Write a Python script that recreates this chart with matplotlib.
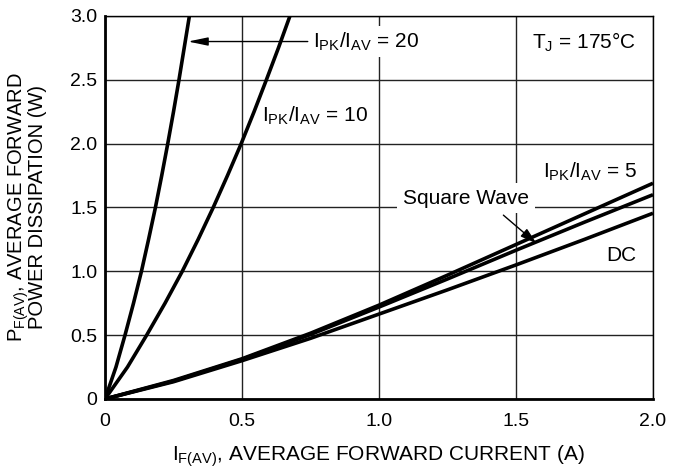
import numpy as np
import matplotlib
matplotlib.use('Agg')
import matplotlib.pyplot as plt

plt.rcParams['font.family'] = ['Liberation Sans', 'DejaVu Sans']
plt.rcParams['mathtext.default'] = 'regular'

# curves
y_hi = [0, 0.25, 0.5, 0.75, 1.0, 1.25, 1.5, 1.75, 2.0, 2.25, 2.5, 2.75, 3.0]
x20 = [0, 0.040, 0.073, 0.104, 0.133, 0.159, 0.184, 0.207, 0.229, 0.250, 0.270, 0.289, 0.308]
x10 = [0, 0.082, 0.152, 0.219, 0.282, 0.340, 0.395, 0.447, 0.497, 0.544, 0.589, 0.633, 0.675]
x_lo = [0, 0.25, 0.5, 0.75, 1.0, 1.25, 1.5, 1.75, 2.0]
y5 = [0, 0.145, 0.315, 0.515, 0.735, 0.97, 1.21, 1.45, 1.69]
ysq = [0, 0.14, 0.31, 0.505, 0.72, 0.94, 1.165, 1.385, 1.60]
ydc = [0, 0.135, 0.30, 0.475, 0.665, 0.855, 1.05, 1.25, 1.455]

xticks = [0, 0.5, 1.0, 1.5, 2.0]
xtick_labels = ['0', '0.5', '1.0', '1.5', '2.0']
yticks = [0, 0.5, 1.0, 1.5, 2.0, 2.5, 3.0]
ytick_labels = ['0', '0.5', '1.0', '1.5', '2.0', '2.5', '3.0']

fig = plt.figure(figsize=(6.74, 4.69), dpi=100)
ax = fig.add_axes([0.1558, 0.1493, 0.9688 - 0.1558, 0.9659 - 0.1493])

lw = 2.6
for xs, ys in [(x20, y_hi), (x10, y_hi), (x_lo, y5), (x_lo, ysq), (x_lo, ydc)]:
  ax.plot(xs, ys, color='black', lw=lw, zorder=4, solid_capstyle='butt', solid_joinstyle='round')

ax.set_xlim(0, 2.0)
ax.set_ylim(0, 3.0)
ax.set_xticks(xticks)
ax.set_xticklabels(xtick_labels)
ax.set_yticks(yticks)
ax.set_yticklabels(ytick_labels)
ax.tick_params(length=0, labelsize=14)
ax.tick_params(axis='x', pad=10)
ax.tick_params(axis='y', pad=5.5)
ax.grid(True, color='#222222', lw=1.0, zorder=0)
ax.set_axisbelow(True)

for s in ['left', 'bottom']:
  ax.spines[s].set_linewidth(2.0)
for s in ['top', 'right']:
  ax.spines[s].set_linewidth(1.0)

ax.set_xlabel('I$_{F(AV)}$, AVERAGE FORWARD CURRENT (A)', fontsize=15)
ax.xaxis.set_label_coords(0.5, -0.117)
ax.set_ylabel('P$_{F(AV)}$, AVERAGE FORWARD\nPOWER DISSIPATION (W)', fontsize=14.5, linespacing=0.85)
ax.yaxis.set_label_coords(-0.105, 0.5)

box = dict(facecolor='white', edgecolor='none', pad=3)
fs = 15
ax.text(0.76, 2.8, 'I$_{PK}$/I$_{AV}$ = 20', fontsize=fs, va='center', ha='left', bbox=box, zorder=3)
ax.text(0.572, 2.22, 'I$_{PK}$/I$_{AV}$ = 10', fontsize=fs, va='center', ha='left', bbox=box, zorder=3)
ax.text(1.56, 2.79, 'T$_{J}$ = 175°C', fontsize=fs, va='center', ha='left', bbox=box, zorder=3)
ax.text(1.60, 1.78, 'I$_{PK}$/I$_{AV}$ = 5', fontsize=fs, va='center', ha='left', bbox=box, zorder=3)
ax.text(1.088, 1.573, 'Square Wave', fontsize=fs, va='center', ha='left', bbox=dict(facecolor='white', edgecolor='none', pad=4), zorder=3)
ax.text(1.83, 1.12, 'DC', fontsize=fs, va='center', ha='left', bbox=box, zorder=3)

ax.annotate('', xy=(0.303, 2.8), xytext=(0.74, 2.8),
            arrowprops=dict(arrowstyle='-|>,head_length=1.2,head_width=0.25', color='black', lw=1.0, shrinkA=0, shrinkB=0), zorder=5)
ax.annotate('', xy=(1.575, 1.218), xytext=(1.454, 1.44),
            arrowprops=dict(arrowstyle='-|>,head_length=1.0,head_width=0.3', color='black', lw=1.0, shrinkA=0, shrinkB=0), zorder=5)

plt.savefig('out.png', dpi=100)
